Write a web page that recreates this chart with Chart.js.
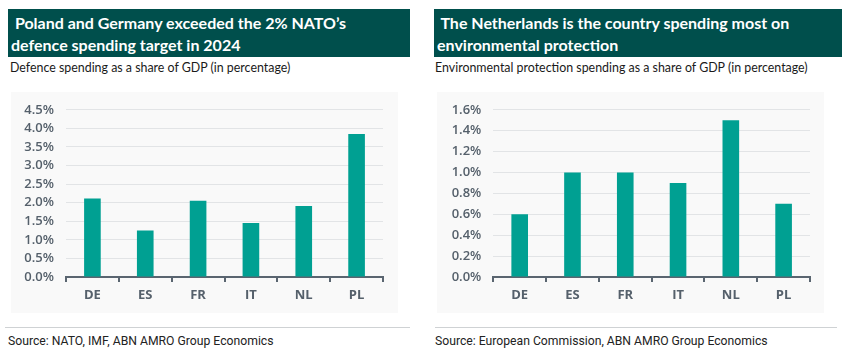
<!DOCTYPE html>
<html><head><meta charset="utf-8">
<script src="https://cdn.jsdelivr.net/npm/chart.js@4"></script>
<style>
html,body{margin:0;padding:0;background:#fff;width:844px;height:357px;overflow:hidden;}
.t{position:absolute;background:#004f4c;color:#fff;font-family:Lato,sans-serif;font-weight:700;font-size:16px;line-height:22px;padding:3px 4px 3px 3px;box-sizing:border-box;white-space:pre;}
.s{position:absolute;font-family:Lato,sans-serif;font-size:12.4px;color:#1a1a1a;}
.bg{position:absolute;background:#f9f9f9;}
.hr{position:absolute;height:1px;background:#cfd2d4;}
.src{position:absolute;font-family:Roboto,sans-serif;font-size:12.2px;color:#222;}
canvas{position:absolute;}
</style></head><body>
<div class="t" style="left:8px;top:9px;width:402px;height:48px;"> Poland and Germany exceeded the 2% NATO’s
defence spending target in 2024</div>
<div class="t" style="left:434px;top:9px;width:408px;height:48px;"> The Netherlands is the country spending most on
environmental protection</div>
<div class="s" style="left:10px;top:60px;">Defence spending as a share of GDP (in percentage)</div>
<div class="s" style="left:435px;top:60px;">Environmental protection spending as a share of GDP (in percentage)</div>
<div class="bg" style="left:11px;top:92px;width:387px;height:221px;"></div>
<div class="bg" style="left:437px;top:92px;width:387px;height:221px;"></div>
<div style="position:absolute;left:10px;top:90px;width:400px;height:224px;"><canvas id="c1" width="400" height="224"></canvas></div>
<div style="position:absolute;left:434px;top:90px;width:400px;height:224px;"><canvas id="c2" width="400" height="224"></canvas></div>
<div class="hr" style="left:5px;top:327px;width:405px;"></div>
<div class="hr" style="left:435px;top:327px;width:402px;"></div>
<div class="src" style="left:8px;top:334px;">Source: NATO, IMF, ABN AMRO Group Economics</div>
<div class="src" style="left:435px;top:334px;">Source: European Commission, ABN AMRO Group Economics</div>
<script>
const countries = ["DE","ES","FR","IT","NL","PL"];
const defenceSpending = [2.11, 1.25, 2.05, 1.45, 1.91, 3.85];
const envSpending = [0.6, 1.0, 1.0, 0.9, 1.5, 0.7];
const defenceTicks = {max:4.5, step:0.5};
const envTicks = {max:1.6, step:0.2};

function makeChart(id, data, tk, yWidth, padRight, padTop){
  new Chart(document.getElementById(id), {
    type:'bar',
    data:{labels:countries, datasets:[{data:data, backgroundColor:'#00a092', borderWidth:0, barPercentage:0.63, categoryPercentage:0.5}]},
    options:{
      responsive:false, animation:false,
      layout:{padding:{left:0,right:padRight,top:padTop,bottom:0}},
      plugins:{legend:{display:false}, tooltip:{enabled:false}},
      scales:{
        y:{min:0,max:tk.max,
          ticks:{stepSize:tk.step, autoSkip:false, padding:12, color:'#55606b', font:{family:'Open Sans', size:13, weight:'600'},
            callback:(v)=>v.toFixed(1)+'%'},
          grid:{color:'#e2e4e6', lineWidth:1, drawTicks:false},
          border:{display:false},
          afterFit:(s)=>{s.width=yWidth;}
        },
        x:{
          offset:true,
          grid:{display:true, drawOnChartArea:false, drawTicks:true, tickLength:5, color:'#5a6570', lineWidth:2, offset:true},
          border:{display:true, color:'#5a6570', width:2},
          ticks:{padding:5, color:'#55606b', font:{family:'Open Sans', size:13, weight:'bold'}},
          afterFit:(s)=>{s.height=37;}
        }
      }
    }
  });
}
makeChart('c1', defenceSpending, defenceTicks, 56, 27, 15.7);
makeChart('c2', envSpending, envTicks, 59.3, 24, 16.7);
</script>
</body></html>
